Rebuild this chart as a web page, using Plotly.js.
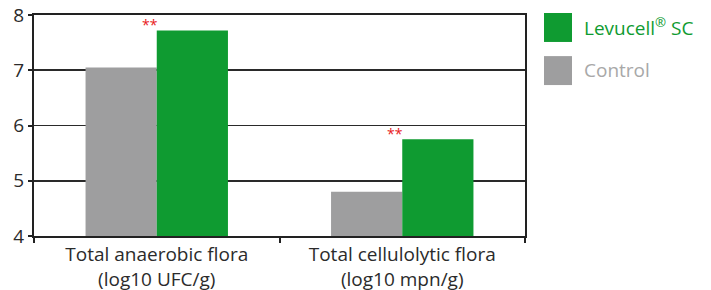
<!DOCTYPE html>
<html><head><meta charset="utf-8">
<script src="https://cdn.plot.ly/plotly-3.0.1.min.js"></script>
<style>body{margin:0;background:#fff}#c{width:711px;height:290px}</style>
</head><body><div id="c"></div>
<script>
const categories = ["Total anaerobic flora<br>(log10 UFC/g)", "Total cellulolytic flora<br>(log10 mpn/g)"];
const controlValues = [7.05, 4.8];
const levucellValues = [7.72, 5.75];
const significance = ["**", "**"];
const seriesNames = ["Control", "Levucell<sup>®</sup> SC"];
const yTicks = [4, 5, 6, 7, 8];

const GREEN = "#0f9b31", GRAY = "#9e9e9f", TXT = "#2b2b2b";
const FONT = "Open Sans, sans-serif";

const traces = [
  {type: "bar", name: seriesNames[0], x: categories, y: controlValues,
   marker: {color: GRAY, line: {width: 0}}, showlegend: false, hoverinfo: "skip"},
  {type: "bar", name: seriesNames[1], x: categories, y: levucellValues,
   marker: {color: GREEN, line: {width: 0}}, showlegend: false, hoverinfo: "skip"}
];

const annotations = categories.map((c, i) => ({
  x: c, y: levucellValues[i], xref: "x", yref: "y", text: significance[i],
  showarrow: false, xanchor: "center", yanchor: "bottom", xshift: -7, yshift: -6,
  font: {family: FONT, size: 14, color: "#e8191d"}
}));
annotations.push({xref: "paper", yref: "paper", x: 1.116, y: 0.945, xanchor: "left", yanchor: "middle",
  text: seriesNames[1], showarrow: false, font: {family: FONT, size: 19, color: GREEN}});
annotations.push({xref: "paper", yref: "paper", x: 1.116, y: 0.751, xanchor: "left", yanchor: "middle",
  text: seriesNames[0], showarrow: false, font: {family: FONT, size: 19, color: "#a8a8a8"}});

const shapes = [
  {type: "rect", xref: "paper", yref: "paper", x0: 1.0387, x1: 1.0957, y0: 0.878, y1: 1.009, fillcolor: GREEN, line: {width: 0}},
  {type: "rect", xref: "paper", yref: "paper", x0: 1.0387, x1: 1.0957, y0: 0.683, y1: 0.814, fillcolor: GRAY, line: {width: 0}}
];

const layout = {
  width: 711, height: 290,
  margin: {l: 34, r: 186, t: 15, b: 54},
  paper_bgcolor: "#fff", plot_bgcolor: "#fff",
  barmode: "group", bargap: 0.42, bargroupgap: 0,
  font: {family: FONT, color: TXT},
  xaxis: {type: "category", showline: true, linecolor: "#222", linewidth: 2, mirror: true,
          ticks: "outside", tickson: "boundaries", ticklen: 5, tickcolor: "#222", tickwidth: 2,
          tickfont: {size: 19, color: TXT}, showgrid: false, fixedrange: true},
  yaxis: {range: [4, 8], tickvals: yTicks, showline: true, linecolor: "#222", linewidth: 2, mirror: true,
          ticks: "outside", ticklen: 4, tickcolor: "#222", tickwidth: 2,
          showgrid: true, gridcolor: "#2a2a2a", gridwidth: 1.8, zeroline: false,
          tickfont: {size: 19, color: TXT}, fixedrange: true},
  annotations: annotations,
  shapes: shapes,
  showlegend: false
};

Plotly.newPlot("c", traces, layout, {displayModeBar: false, staticPlot: true});
</script>
</body></html>
